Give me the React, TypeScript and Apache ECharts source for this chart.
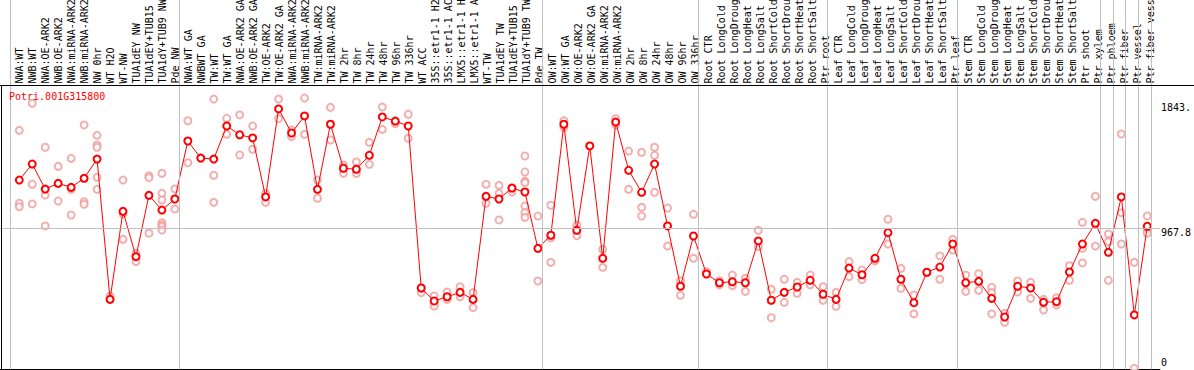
import React, { useEffect, useRef } from "react";
import * as echarts from "echarts";

const TITLE = "Potri.001G315800";

const CATEGORIES = [
  "NWA:WT", "NWB:WT", "NWA:OE-ARK2", "NWB:OE-ARK2", "NWA:miRNA-ARK2", "NWB:miRNA-ARK2", "NW 0hr", "WT H2O", "WT-NW", "TUA1dEY NW", "TUA1dEY+TUB15", "TUA1dY+TUB9 NW", "Pde NW",
  "NWA:WT GA", "NWBWT GA", "TW:WT", "TW:WT GA", "NWA:OE-ARK2 GA", "NWB:OE-ARK2 GA", "TW:OE-ARK2", "TW:OE-ARK2 GA", "NWA:miRNA-ARK2", "NWB:miRNA-ARK2", "TW:miRNA-ARK2", "TW:miRNA-ARK2", "TW 2hr", "TW 8hr", "TW 24hr", "TW 48hr", "TW 96hr", "TW 336hr", "WT ACC", "35S::etr1-1 H2", "35S::etr1-1 AC", "LMX5::etr1-1 H", "LMX5::etr1-1 A", "WT-TW", "TUA1dEY TW", "TUA1dEY+TUB15", "TUA1dY+TUB9 TW", "Pde TW",
  "OW:WT", "OW:WT GA", "OW:OE-ARK2", "OW:OE-ARK2 GA", "OW:miRNA-ARK2", "OW:miRNA-ARK2", "OW 2hr", "OW 8hr", "OW 24hr", "OW 48hr", "OW 96hr", "OW 336hr",
  "Root CTR", "Root LongCold", "Root LongDroug", "Root LongHeat", "Root LongSalt", "Root ShortCold", "Root ShortDrou", "Root ShortHeat", "Root ShortSalt", "Ptr root",
  "Leaf CTR", "Leaf LongCold", "Leaf LongDroug", "Leaf LongHeat", "Leaf LongSalt", "Leaf ShortCold", "Leaf ShortDrou", "Leaf ShortHeat", "Leaf ShortSalt", "Ptr leaf",
  "Stem CTR", "Stem LongCold", "Stem LongDroug", "Stem LongHeat", "Stem LongSalt", "Stem ShortCold", "Stem ShortDrou", "Stem ShortHeat", "Stem ShortSalt", "Ptr shoot",
  "Ptr xylem", "Ptr phloem", "Ptr fiber", "Ptr vessel", "Ptr fiber vess",
];

const MEAN = [
  1299, 1409, 1237, 1276, 1249, 1311, 1443, 480, 1084, 773, 1194, 1093, 1169,
  1567, 1450, 1443, 1670, 1610, 1588, 1183, 1787, 1622, 1739, 1235, 1682, 1380, 1373, 1469, 1732, 1704, 1670, 558, 469, 498, 528, 480, 1187, 1169, 1244, 1217, 830,
  920, 1682, 954, 1533, 762, 1697, 1366, 1215, 1409, 984, 570, 915,
  654, 594, 601, 594, 881, 474, 528, 565, 611, 515,
  480, 695, 649, 762, 938, 618, 457, 666, 702, 860,
  594, 604, 487, 359, 570, 558, 460, 464, 668, 860,
  1002, 803, 1183, 373, 982,
];

const REPLICATES: number[][] = [
  [1640, 1139, 1116], [1826, 1270, 1135], [1524, 1196, 984], [1393, 1155], [1448, 1235, 1059],
  [1677, 1150, 1133], [1606, 1540, 1524, 1318, 1235], [503, 480], [1299, 1066, 892], [796, 739],
  [1329, 1315, 934], [1345, 1208, 1162, 1006, 990, 979, 956], [1238, 1100],
  [1706, 1418], [1450], [1855, 1331, 1146], [1723, 1613], [1746, 1471], [1670, 1510], [1208, 1146],
  [1855, 1720], [1643, 1597], [1862, 1613], [1299, 1174], [1798, 1574], [1402, 1345], [1423, 1345],
  [1558, 1407], [1800, 1647], [1695, 1686], [1750, 1586], [526, 558], [503, 453, 434], [531, 480],
  [567, 498], [526, 423], [1270, 1139], [1263, 1208, 1025], [1217, 1244],
  [1464, 1354, 1292, 1281, 1121, 1075, 1043], [1052, 606],
  [1126, 903, 734], [1706, 1661], [990, 917], [1533], [824, 700], [1720, 1677], [1498, 1235],
  [1489, 1112, 1052], [1524, 1469, 1215], [1107, 846], [608, 508], [1064, 762],
  [670], [608, 579], [647, 574], [625, 535], [954, 842], [549, 354], [618, 460], [597, 522], [647, 579], [567, 474],
  [528, 432], [739, 636], [682, 615], [750, 745], [1030, 860], [693, 556], [510, 380], [666], [778, 618], [892, 819],
  [647, 535], [656, 542], [563, 526, 380], [384, 323], [606, 531], [597, 487], [480, 407], [491, 441], [711, 611], [1009, 830, 730],
  [1187, 846], [929, 876, 611], [1615, 1075, 860], [734, 7], [1052, 961, 934],
];

// category boundaries (in category units) where grey divider lines are drawn
const GROUP_BOUNDARIES = [0, 13, 41, 53, 63, 73, 84, 85, 86, 87, 88];
const REFERENCE_VALUE = 967.8;
const Y_TICKS = [0, 967.8, 1843];
const Y_TICK_LABELS = ["0", "967.8", "1843."];

// layout constants
const W = 1194;
const H = 370;
const STEP = 13;
const FIRST_X = 19.33;
const PLOT_RIGHT = 1163;
const PLOT_BOTTOM = 369.3;
const HEADER = 85;
const PX_PER_UNIT = 0.14569;
const DIVIDER_SHIFT = -0.664;
const MONO = "'DejaVu Sans Mono', monospace";

export default function App() {
  const ref = useRef<HTMLDivElement>(null);
  useEffect(() => {
    document.body.style.margin = "0";
    if (!ref.current) return;
    const chart = echarts.init(ref.current, undefined, { renderer: "svg" });
    const n = CATEGORIES.length;
    const xMin = -FIRST_X / STEP;
    const xMax = (PLOT_RIGHT - FIRST_X) / STEP;
    const yMax = PLOT_BOTTOM / PX_PER_UNIT;

    const repData: number[][] = [];
    REPLICATES.forEach((arr, i) => arr.forEach((v) => repData.push([i, v])));

    const richStyles = [
      { padding: [0, 0, 14, 0] },
      { padding: [9, 0, 0, 0] },
      { padding: [13, 0, 0, 0] },
    ];
    const rich: any = {};
    richStyles.forEach((s, i) => {
      rich["t" + i] = { ...s, fontFamily: MONO, fontSize: 10, color: "#000" };
    });

    chart.setOption({
      animation: false,
      backgroundColor: "#fff",
      title: {
        text: TITLE,
        left: 9,
        top: 91,
        padding: 0,
        textStyle: { color: "#ff0000", fontSize: 10, fontFamily: MONO, fontWeight: "normal" },
      },
      grid: [
        { left: 0, top: 0, width: PLOT_RIGHT, height: PLOT_BOTTOM, containLabel: false },
        { left: FIRST_X - STEP / 2, top: 0, width: STEP * n, height: HEADER, containLabel: false },
      ],
      xAxis: [
        {
          type: "value",
          gridIndex: 0,
          min: xMin,
          max: xMax,
          axisLine: { show: true, lineStyle: { color: "#000", width: 1 } },
          axisTick: { show: false },
          axisLabel: { show: false },
          splitLine: { show: false },
        },
        {
          type: "category",
          gridIndex: 1,
          position: "bottom",
          data: CATEGORIES,
          boundaryGap: true,
          axisLine: { show: false },
          axisTick: { show: false },
          splitLine: { show: false },
          axisLabel: {
            inside: true,
            rotate: 90,
            interval: 0,
            margin: 1.5,
            align: "left",
            verticalAlign: "middle",
            fontFamily: MONO,
            fontSize: 10,
            color: "#000",
            hideOverlap: false,
          },
        },
      ],
      yAxis: [
        {
          type: "value",
          gridIndex: 0,
          position: "right",
          min: 0,
          max: yMax,
          axisLine: { show: false },
          axisTick: { show: false },
          splitLine: { show: false },
          axisLabel: {
            customValues: Y_TICKS,
            margin: 1,
            verticalAlign: "middle",
            formatter: (v: number) => {
              const idx = Y_TICKS.findIndex((t) => Math.abs(t - v) < 1e-6);
              return idx >= 0 ? `{t${idx}|${Y_TICK_LABELS[idx]}}` : "";
            },
            rich,
          },
        },
        { type: "value", gridIndex: 1, show: false, min: 0, max: 1 },
      ],
      graphic: [
        { type: "line", shape: { x1: 0, y1: HEADER + 0.5, x2: W, y2: HEADER + 0.5 }, style: { stroke: "#000", lineWidth: 1 }, z: 10 },
        { type: "line", shape: { x1: 1.5, y1: HEADER, x2: 1.5, y2: H }, style: { stroke: "#000", lineWidth: 1 }, z: 10 },
      ],
      series: [
        {
          type: "line",
          xAxisIndex: 0,
          yAxisIndex: 0,
          data: [],
          silent: true,
          markLine: {
            silent: true,
            symbol: ["none", "none"],
            label: { show: false },
            lineStyle: { color: "#c0c0c0", width: 1, type: "solid" },
            data: [
              ...GROUP_BOUNDARIES.map((k) => ({ xAxis: k + DIVIDER_SHIFT })),
              { yAxis: REFERENCE_VALUE },
            ],
          },
          z: 1,
        },
        {
          type: "scatter",
          xAxisIndex: 0,
          yAxisIndex: 0,
          data: repData,
          symbol: "emptyCircle",
          symbolSize: 7,
          itemStyle: { color: "#ef9b9b", borderColor: "#ef9b9b", borderWidth: 1.2 },
          silent: true,
          z: 2,
        },
        {
          type: "line",
          xAxisIndex: 0,
          yAxisIndex: 0,
          data: MEAN.map((v, i) => [i, v]),
          symbol: "emptyCircle",
          symbolSize: 7,
          showAllSymbol: true,
          lineStyle: { color: "#ff0000", width: 1 },
          itemStyle: { color: "#ff0000", borderColor: "#ff0000", borderWidth: 1.3 },
          silent: true,
          z: 3,
        },
      ],
    });
    return () => chart.dispose();
  }, []);
  return <div ref={ref} style={{ width: W, height: H }} />;
}
